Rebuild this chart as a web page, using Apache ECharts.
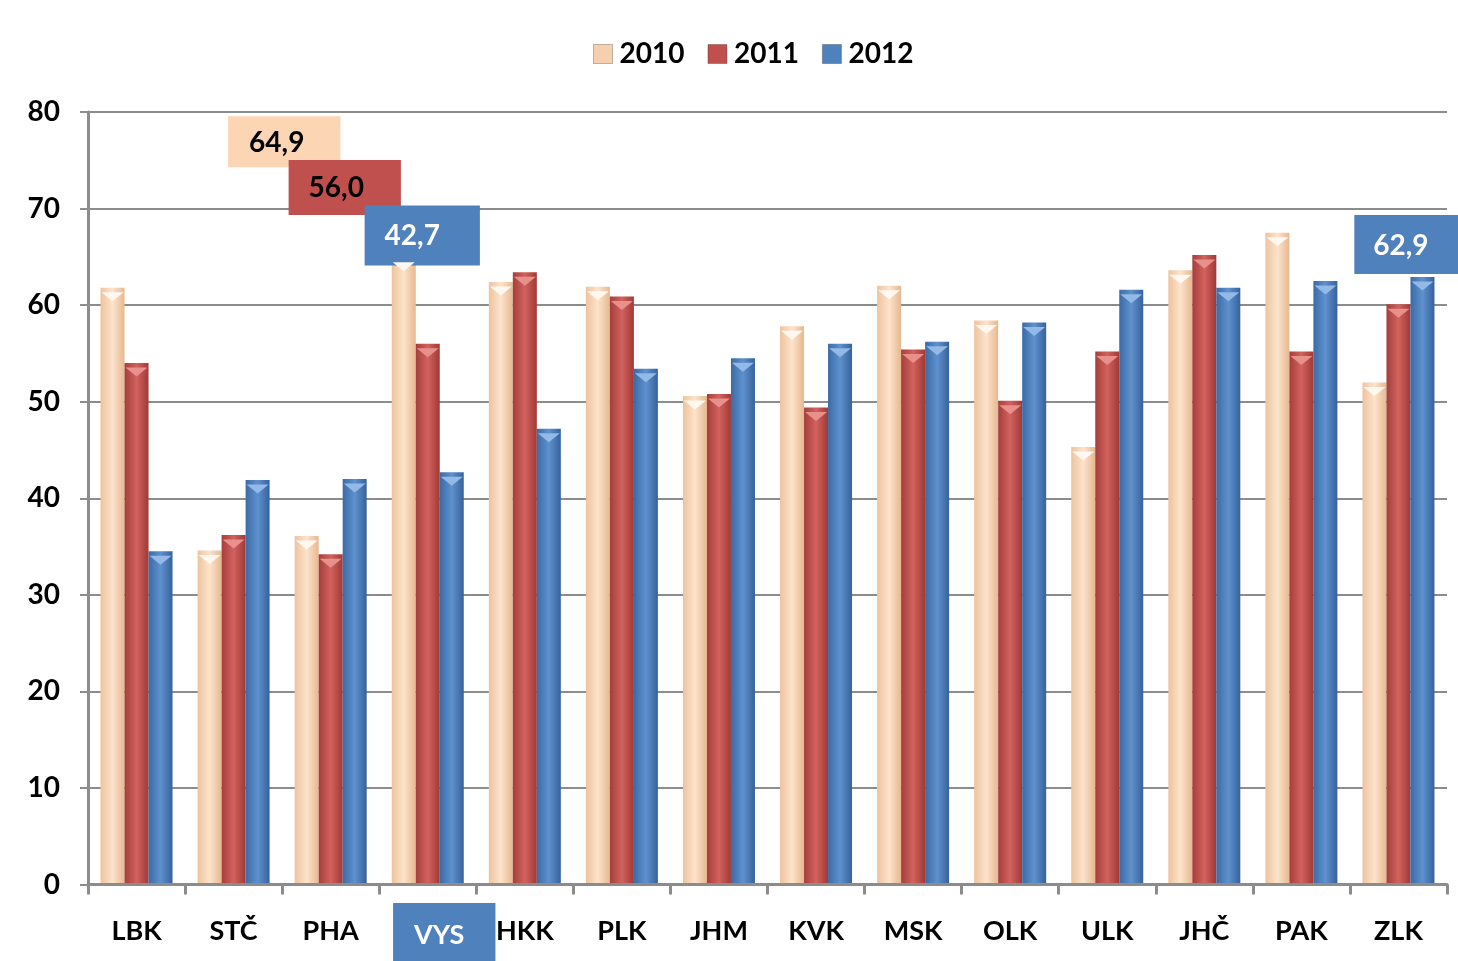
<!DOCTYPE html>
<html>
<head>
<meta charset="utf-8">
<script src="https://cdn.jsdelivr.net/npm/echarts@6/dist/echarts.min.js"></script>
<style>
html,body{margin:0;padding:0;background:#fff;}
#c{width:1458px;height:961px;}
</style>
</head>
<body>
<div id="c"></div>
<script>
const categories = ['LBK','STČ','PHA','VYS','HKK','PLK','JHM','KVK','MSK','OLK','ULK','JHČ','PAK','ZLK'];
const seriesNames = ['2010','2011','2012'];
const values2010 = [61.8, 34.6, 36.1, 64.9, 62.4, 61.9, 50.6, 57.8, 62.0, 58.4, 45.3, 63.6, 67.5, 52.0];
const values2011 = [54.0, 36.2, 34.2, 56.0, 63.4, 60.9, 50.8, 49.4, 55.4, 50.1, 55.2, 65.2, 55.2, 60.1];
const values2012 = [34.5, 41.9, 42.0, 42.7, 47.2, 53.4, 54.5, 56.0, 56.2, 58.2, 61.6, 61.8, 62.5, 62.9];
const yTicks = [0, 10, 20, 30, 40, 50, 60, 70, 80];

const FONT = 'Lato';
const fmt = v => v.toFixed(1).replace('.', ',');

function grad(a, b, c) {
  return new echarts.graphic.LinearGradient(0, 0, 1, 0, [
    {offset: 0, color: a}, {offset: 0.5, color: b}, {offset: 1, color: c}
  ]);
}
const colors = [
  grad('#EEC39D', '#FDE3CC', '#E6B88F'),
  grad('#A53E3B', '#D2625E', '#A03936'),
  grad('#3B6BA5', '#5E91CE', '#37629B')
];
const capColors = ['#FFF8F0', '#E8908B', '#93B9E6'];
const legendColors = ['#F5CFAE', '#C0504D', '#4F81BD'];

function callout(bg, fg, off, pad) {
  return {
    show: true, position: 'top', distance: 0, offset: off,
    formatter: p => fmt(p.value),
    backgroundColor: bg, color: fg, padding: pad,
    fontFamily: FONT, fontWeight: 'bold', fontSize: 28, lineHeight: 31,
    align: 'center'
  };
}

function build(vals, idx) {
  return vals.map((v, i) => {
    const item = {value: v};
    if (categories[i] === 'VYS') {
      if (idx === 0) item.label = callout('#FCD5B4', '#000', [-119.5, -90.5], [11, 36, 9, 21]);
      if (idx === 1) item.label = callout('#C0504D', '#000', [-83, -128.8], [13, 37, 11, 20]);
      if (idx === 2) item.label = callout('#4F81BD', '#fff', [-29.5, -206.8], [15, 40, 14, 20]);
    }
    if (categories[i] === 'ZLK' && idx === 2) {
      item.label = callout('#4F81BD', '#fff', [-15, -3], [15, 32, 13, 19]);
    }
    return item;
  });
}

const allVals = [values2010, values2011, values2012];
const chart = echarts.init(document.getElementById('c'), null, {renderer: 'canvas'});
const barSeries = seriesNames.map((n, i) => ({
  name: n, type: 'bar',
  barWidth: 24, barGap: '0%', barCategoryGap: '25%',
  itemStyle: {color: colors[i]},
  data: build(allVals[i], i),
  z: 3
}));
const capSeries = seriesNames.map((n, i) => ({
  name: n, type: 'pictorialBar',
  barWidth: 24, barGap: '0%', barCategoryGap: '25%',
  symbol: 'path://M0,0 L24,0 L12,9 Z',
  symbolSize: [22, 9],
  symbolPosition: 'end',
  symbolOffset: [0, '50%'],
  itemStyle: {color: capColors[i]},
  data: allVals[i],
  silent: true,
  z: 4
}));
chart.setOption({
  backgroundColor: '#fff',
  animation: false,
  textStyle: {fontFamily: FONT},
  legend: {
    top: 35, left: 588,
    itemWidth: 19, itemHeight: 19, itemGap: 23,
    icon: 'rect',
    textStyle: {fontFamily: FONT, fontWeight: 'bold', fontSize: 28, color: '#000', padding: [0, 0, 0, 2]},
    data: seriesNames.map((n, i) => ({name: n, itemStyle: {color: legendColors[i], borderColor: 'rgba(0,0,0,0.25)', borderWidth: 1}}))
  },
  grid: {left: 88, right: 11, top: 112, bottom: 73, containLabel: false},
  xAxis: {
    type: 'category',
    data: categories,
    axisLine: {lineStyle: {color: '#8C8C8C', width: 3}},
    axisTick: {show: true, length: 10, lineStyle: {color: '#8C8C8C', width: 3}},
    axisLabel: {
      interval: 0, margin: 34, color: '#000',
      fontFamily: FONT, fontWeight: 'bold', fontSize: 27,
      formatter: v => v === 'VYS' ? '{pad|}{v|' + v + '}' : '{n|' + v + '}',
      rich: {
        n: {fontFamily: FONT, fontWeight: 'bold', fontSize: 27, lineHeight: 25, padding: [0, 0, 0, 0], color: '#000'},
        pad: {width: 33, height: 10},
        v: {fontFamily: FONT, fontWeight: 'bold', fontSize: 27, lineHeight: 27, padding: [19, 31, 12, 21],
            color: '#fff', backgroundColor: '#4F81BD'}
      }
    },
    z: 5
  },
  yAxis: {
    type: 'value', min: 0, max: 80, interval: 10,
    axisLine: {show: true, lineStyle: {color: '#8C8C8C', width: 3}},
    axisTick: {show: true, length: 8, lineStyle: {color: '#8C8C8C', width: 2}},
    axisLabel: {
      margin: 28, color: '#000', fontFamily: FONT, fontWeight: 'bold', fontSize: 28,
      formatter: v => yTicks.includes(v) ? String(v) : ''
    },
    splitLine: {lineStyle: {color: '#8C8C8C', width: 2}}
  },
  series: barSeries.concat(capSeries)
});
</script>
</body>
</html>
